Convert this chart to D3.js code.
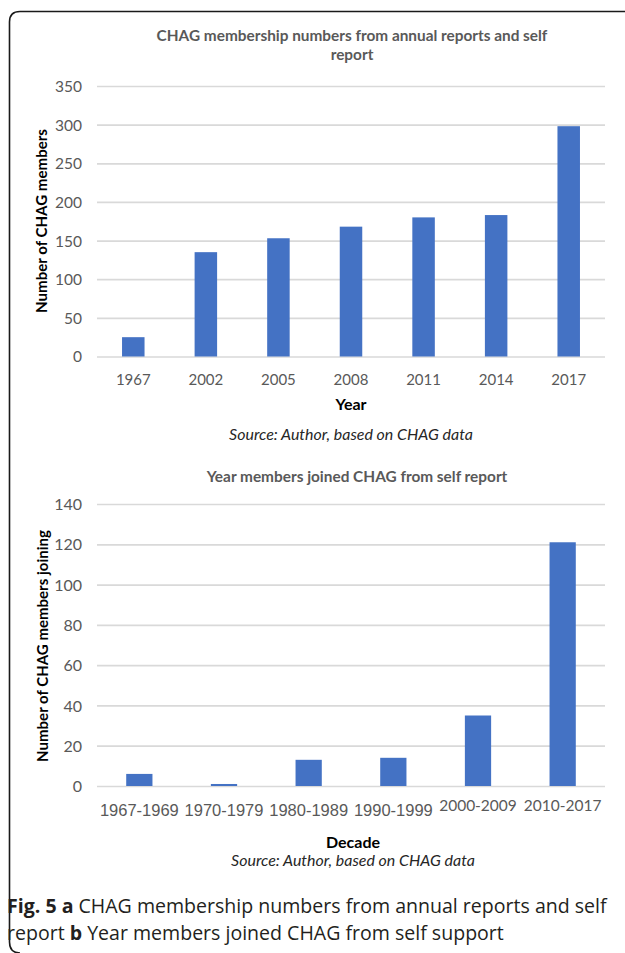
<!DOCTYPE html>
<html>
<head>
<meta charset="utf-8">
<script src="https://cdn.jsdelivr.net/npm/d3@7/dist/d3.min.js"></script>
<style>
  html, body { margin: 0; padding: 0; background: #fff; }
  svg { display: block; }
</style>
</head>
<body>
<svg id="chart" width="625" height="953"></svg>
<script>
// ---- Data ----
const yearsA = ["1967", "2002", "2005", "2008", "2011", "2014", "2017"];
const membersA = [25, 135, 153, 168, 180, 183, 298];
const ticksA = [0, 50, 100, 150, 200, 250, 300, 350];

const decadesB = ["1967-1969", "1970-1979", "1980-1989", "1990-1999", "2000-2009", "2010-2017"];
const joinedB = [6, 1, 13, 14, 35, 121];
const ticksB = [0, 20, 40, 60, 80, 100, 120, 140];

const titleA = ["CHAG membership numbers from annual reports and self", "report"];
const titleB = "Year members joined CHAG from self report";
const yLabelA = "Number of CHAG members";
const yLabelB = "Number of CHAG members joining";
const xLabelA = "Year";
const xLabelB = "Decade";
const sourceText = "Source: Author, based on CHAG data";

const svg = d3.select("#chart");
const CAL = "Lato, 'Open Sans', sans-serif";
const BAR = "#4472c4";
const GRID = "#d9d9d9";
const GRAY = "#595959";

// scale a text's font size so that it spans the width measured in the reference
function fit(sel, target) {
  const fs = parseFloat(sel.attr("font-size"));
  const w = sel.node().getComputedTextLength();
  sel.attr("font-size", fs * target / w);
  return fs * target / w;
}

// frame
svg.append("path")
  .attr("d", "M625,11.5 L20,11.5 Q9.5,11.5 9.5,22 L9.5,942 Q9.5,953 20,953")
  .attr("fill", "none").attr("stroke", "#1a1a1a").attr("stroke-width", 1.6);

function drawChart(cfg) {
  const x = d3.scaleBand().domain(cfg.cats).range([97, 605]).paddingInner(0.69).paddingOuter(0.345);
  const y = d3.scaleLinear().domain([0, cfg.max]).range([cfg.y0, cfg.yTop]);
  const g = svg.append("g");

  // gridlines
  const yAxis = d3.axisLeft(y).tickValues(cfg.ticks).tickSize(-(605 - 97)).tickPadding(15);
  const ga = g.append("g").attr("transform", "translate(97,0)").call(yAxis);
  ga.select(".domain").remove();
  ga.selectAll(".tick line").attr("stroke", GRID).attr("stroke-width", 1.7);
  ga.selectAll(".tick text").attr("font-family", CAL).attr("font-size", cfg.yTickSize)
    .attr("fill", GRAY).attr("x", -15).attr("dy", "0.35em");

  // bars
  g.selectAll("rect.bar").data(cfg.vals).join("rect")
    .attr("class", "bar")
    .attr("x", (d, i) => x(cfg.cats[i]))
    .attr("width", x.bandwidth())
    .attr("y", d => y(d))
    .attr("height", d => y(0) - y(d))
    .attr("fill", BAR);

  // x axis labels
  const xAxis = d3.axisBottom(x).tickSize(0).tickPadding(0);
  const gx = g.append("g").attr("transform", `translate(0,${cfg.y0})`).call(xAxis);
  gx.select(".domain").remove();
  gx.selectAll(".tick text").each(function(d, i) {
    const t = d3.select(this);
    const s = cfg.xTickStyle(i);
    t.attr("font-family", s.font).attr("font-size", s.size).attr("fill", GRAY)
      .attr("y", s.base - cfg.y0).attr("dy", null);
  });

  // y label
  const yl = g.append("text")
    .attr("transform", `translate(${cfg.yLabX},${cfg.yLabY}) rotate(-90)`)
    .attr("text-anchor", "middle").attr("font-family", CAL).attr("font-weight", 700)
    .attr("font-size", 15).attr("fill", "#000").text(cfg.yLabel);
  fit(yl, cfg.yLabW);

  // x label
  g.append("text").attr("x", cfg.cx).attr("y", cfg.xLabY).attr("text-anchor", "middle")
    .attr("font-family", CAL).attr("font-weight", 700).attr("font-size", 16).attr("fill", "#000")
    .text(cfg.xLabel);

  // source
  const src = g.append("text").attr("x", cfg.cx).attr("y", cfg.srcY).attr("text-anchor", "middle")
    .attr("font-family", CAL).attr("font-style", "italic").attr("font-size", 15).attr("fill", "#262626")
    .text(sourceText);
  fit(src, 244);

  // title
  let tfs = null;
  cfg.title.forEach((line, i) => {
    const t = g.append("text").attr("x", cfg.titleX).attr("y", cfg.titleY + i * 19).attr("text-anchor", "middle")
      .attr("font-family", CAL).attr("font-weight", 700).attr("font-size", tfs || 14.5).attr("fill", GRAY)
      .text(line);
    if (i === 0) tfs = fit(t, cfg.titleW);
  });
}

drawChart({
  cats: yearsA, vals: membersA, ticks: ticksA, max: 350,
  y0: 356.5, yTop: 86,
  yTickSize: 15.5,
  xTickStyle: i => ({ font: CAL, size: 15, base: 385 }),
  yLabel: yLabelA, yLabX: 47, yLabY: 221, yLabW: 184,
  xLabel: xLabelA, cx: 351, xLabY: 410, srcY: 440,
  title: titleA, titleX: 352, titleW: 391, titleY: 41
});

drawChart({
  cats: decadesB, vals: joinedB, ticks: ticksB, max: 140,
  y0: 786, yTop: 504,
  yTickSize: 16,
  xTickStyle: i => i < 4
    ? ({ font: "'Liberation Sans', Arial, sans-serif", size: 16.5, base: 816 })
    : ({ font: CAL, size: 15.5, base: 811 }),
  yLabel: yLabelB, yLabX: 48, yLabY: 646, yLabW: 232,
  xLabel: xLabelB, cx: 353, xLabY: 848, srcY: 866,
  title: [titleB], titleX: 357, titleW: 301, titleY: 482
});

// caption
const CAPF = "'Open Sans', 'Noto Sans', sans-serif";
const cap1 = svg.append("text").attr("x", 7).attr("y", 913).attr("font-family", CAPF)
  .attr("font-size", 19).attr("fill", "#231f20");
cap1.append("tspan").attr("font-weight", 700).text("Fig. 5 a");
cap1.append("tspan").text(" CHAG membership numbers from annual reports and self");
const cap2 = svg.append("text").attr("x", 7).attr("y", 940).attr("font-family", CAPF)
  .attr("font-size", 19).attr("fill", "#231f20");
cap2.append("tspan").text("report ");
cap2.append("tspan").attr("font-weight", 700).text("b");
cap2.append("tspan").text(" Year members joined CHAG from self support");
// fit caption line 1 to its measured span in the reference
const w1 = cap1.node().getComputedTextLength();
const fs = 19 * 600 / w1;
cap1.attr("font-size", fs);
cap2.attr("font-size", fs);
</script>
</body>
</html>
